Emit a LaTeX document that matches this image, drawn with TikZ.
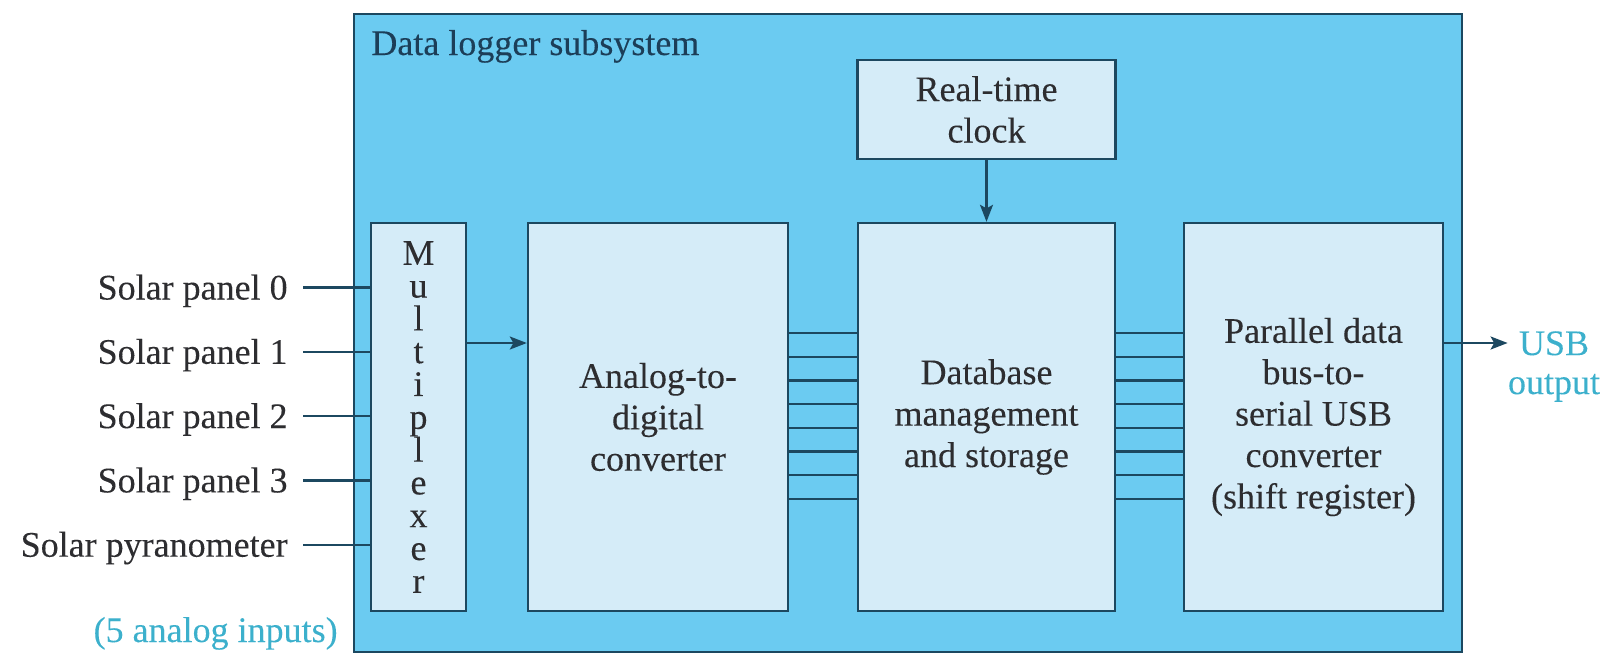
\documentclass[tikz,border=0pt]{standalone}
\usepackage{fontspec}
\setmainfont{Liberation Serif}[FakeBold=0.12]
\usetikzlibrary{arrows.meta}

\definecolor{panelblue}{RGB}{107,203,241}
\definecolor{boxfill}{RGB}{213,236,248}
\definecolor{edge}{RGB}{28,72,96}
\definecolor{inktext}{RGB}{45,45,48}
\definecolor{titleink}{RGB}{28,62,88}
\definecolor{cyanlbl}{RGB}{60,176,204}

\begin{document}
\begin{tikzpicture}[x=0.5pt,y=-0.5pt,
  every node/.style={font=\fontsize{18}{20.7}\selectfont, text=inktext},
  blk/.style={draw=edge, fill=boxfill, line width=1.2pt, inner sep=0pt, align=center},
  wire/.style={draw=edge, line width=1.15pt},
  arr/.style={wire, -{Stealth[length=8.5pt,width=6.5pt,inset=1.8pt]}},
  inlabel/.style={anchor=east, inner sep=0pt, text height=12pt, text depth=0pt},
]
\useasboundingbox (0,0) rectangle (1607,653);

% enclosing subsystem
\node[draw=edge, fill=panelblue, line width=1.2pt, inner sep=0pt,
      minimum width=554pt, minimum height=319pt] (sys) at (908,333) {};
\node[anchor=base west, inner sep=0pt, text=titleink] (title) at (371,55) {Data logger subsystem};

% functional blocks
\node[blk, minimum width=47.5pt, minimum height=194pt,
      font=\fontsize{18}{16.4}\selectfont] (mux) at (418.5,417)
  {M\\u\\l\\t\\i\\p\\l\\e\\x\\e\\r};
\node[blk, minimum width=130pt, minimum height=194pt] (adc) at (658,417)
  {Analog-to-\\digital\\converter};
\node[blk, minimum width=128.5pt, minimum height=194pt] (db) at (986.5,417)
  {Database\\management\\and storage};
\node[blk, minimum width=129.5pt, minimum height=194pt] (par) at (1313.5,417)
  {Parallel data\\bus-to-\\serial USB\\converter\\(shift register)};
\node[blk, minimum width=129pt, minimum height=49.5pt] (clk) at (986.5,109.5)
  {Real-time\\clock};

% analog inputs
\foreach \t/\y [count=\i from 0] in {Solar panel 0/287.5, Solar panel 1/351.8,
    Solar panel 2/416.1, Solar panel 3/480.4, Solar pyranometer/544.7} {
  \node[inlabel] (in\i) at (288,\y) {\t};
  \draw[wire] ([xshift=7.5pt]in\i.east) -- (mux.west |- in\i.east);
}
\node[anchor=base east, inner sep=0pt, text=cyanlbl] (note) at (338,642) {(5 analog inputs)};

% signal flow
\draw[arr] (mux.east |- 0,343) -- (adc.west |- 0,343);
\draw[arr] (clk.south) -- (db.north);

% parallel data buses
\foreach \k in {0,...,7} {
  \pgfmathsetmacro\yy{333+23.7*\k}
  \draw[wire] (adc.east |- 0,\yy) -- (db.west |- 0,\yy);
  \draw[wire] (db.east |- 0,\yy) -- (par.west |- 0,\yy);
}

% serial output
\node[inner sep=0pt, align=center, text=cyanlbl,
      font=\fontsize{18}{19.5}\selectfont] (usb) at (1554,366.5) {USB\\output};
\draw[arr] (par.east |- 0,343) -- (usb.west |- 0,343);
\end{tikzpicture}
\end{document}
